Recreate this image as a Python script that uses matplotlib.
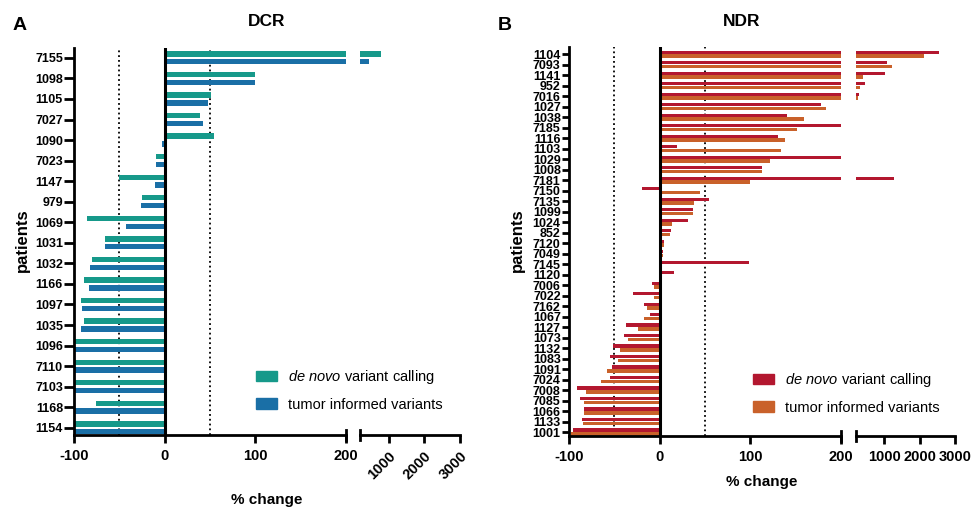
import matplotlib
matplotlib.use('Agg')
import matplotlib.pyplot as plt
import numpy as np

matplotlib.rcParams['font.family'] = 'Liberation Sans'
matplotlib.rcParams['mathtext.fontset'] = 'custom'
matplotlib.rcParams['mathtext.rm'] = 'Liberation Sans'
matplotlib.rcParams['mathtext.it'] = 'Liberation Sans:italic'

# DCR panel
dcr_patients = ['7155', '1098', '1105', '7027', '1090', '7023', '1147', '979', '1069', '1031',
                '1032', '1166', '1097', '1035', '1096', '7110', '7103', '1168', '1154']
dcr_denovo = [800, 100, 51, 39, 54, -10, -50, -25, -86, -66,
              -80, -89, -92, -89, -100, -100, -100, -76, -100]
dcr_informed = [465, 100, 48, 42, -3, -10, -11, -26, -43, -66,
                -82, -84, -91, -92, -100, -100, -100, -100, -100]

# NDR panel
ndr_patients = ['1104', '7093', '1141', '952', '7016', '1027', '1038', '7185', '1116', '1103',
                '1029', '1008', '7181', '7150', '7135', '1099', '1024', '852', '7120', '7049',
                '7145', '1120', '7006', '7022', '7162', '1067', '1127', '1073', '1132', '1083',
                '1091', '7024', '7008', '7085', '1066', '1133', '1001']
ndr_denovo = [2560, 1070, 1030, 455, 285, 178, 140, 200, 130, 19,
              200, 113, 1270, -20, 54, 37, 31, 12, 5, 4,
              99, 16, -8, -29, -17, -11, -37, -39, -52, -55,
              -53, -55, -91, -88, -83, -86, -96]
ndr_informed = [2130, 1220, 410, 305, 250, 183, 159, 151, 138, 134,
                122, 113, 100, 44, 38, 37, 14, 11, 5, 4,
                0, 0, -6, -6, -14, -17, -24, -35, -44, -46,
                -58, -65, -81, -83, -84, -85, -98]

W, H = 972, 512
fig = plt.figure(figsize=(W / 100, H / 100), dpi=100)


def px_ax(x0, x1, y0, y1):
    return fig.add_axes([x0 / W, 1 - y1 / H, (x1 - x0) / W, (y1 - y0) / H])


def draw_panel(axl, axr, patients, v1, v2, c1, c2, ylim, bar_h, off, ytick_len, rotate):
    y = np.arange(len(patients))
    for ax in (axl, axr):
        ax.barh(y - off, v1, height=bar_h, color=c1, linewidth=0, zorder=2)
        ax.barh(y + off, v2, height=bar_h, color=c2, linewidth=0, zorder=2)
        ax.set_ylim(*ylim)
        for s in ['top', 'right']:
            ax.spines[s].set_visible(False)
        ax.spines['bottom'].set_linewidth(2.0)
        ax.tick_params(axis='x', direction='out', length=6, width=2.0, labelsize=10.5, pad=4)
    axl.set_xlim(-100, 200)
    axl.set_xticks([-100, 0, 100, 200])
    axl.set_xticklabels(['-100', '0', '100', '200'], fontweight='bold')
    axl.spines['left'].set_linewidth(2.0)
    axl.set_yticks(y)
    axl.set_yticklabels(patients, fontweight='bold', fontsize=9)
    axl.tick_params(axis='y', direction='out', length=ytick_len, width=2.0, pad=1)
    axl.axvline(0, color='black', linewidth=2.2, zorder=3)
    axl.axvline(-50, color='black', linestyle=':', linewidth=1.3, zorder=1)
    axl.axvline(50, color='black', linestyle=':', linewidth=1.3, zorder=1)

    axr.set_xlim(200, 3000)
    axr.spines['left'].set_visible(False)
    axr.set_yticks([])
    axr.set_xticks([1000, 2000, 3000])
    if rotate:
        axr.set_xticklabels(['1000', '2000', '3000'], fontweight='bold', rotation=45,
                            ha='right', va='top', rotation_mode='anchor')
    else:
        axr.set_xticklabels(['1000', '2000', '3000'], fontweight='bold')

    # break caps
    hl = 5 / (axl.get_position().height * H)
    axl.plot([1, 1], [-hl, hl], transform=axl.transAxes, color='black', lw=2.0, clip_on=False)
    axr.plot([0, 0], [-hl, hl], transform=axr.transAxes, color='black', lw=2.0, clip_on=False)


# panel A
axA = px_ax(74, 346, 48, 435)
axA2 = px_ax(360, 460, 48, 435)
draw_panel(axA, axA2, dcr_patients, dcr_denovo, dcr_informed, '#16998a', '#1a6fa6',
           (18.35, -0.48), 0.26, 0.19, 7, True)

# panel B
axB = px_ax(569, 841, 47, 436)
axB2 = px_ax(856, 955, 47, 436)
draw_panel(axB, axB2, ndr_patients, ndr_denovo, ndr_informed, '#b3172f', '#c9612a',
           (36.38, -0.67), 0.33, 0.17, 5, False)

# titles and labels
fig.text(20 / W, 1 - 25 / H, 'A', fontsize=14, fontweight='bold', ha='center', va='center')
fig.text(505 / W, 1 - 25 / H, 'B', fontsize=14, fontweight='bold', ha='center', va='center')
fig.text(267 / W, 1 - 21 / H, 'DCR', fontsize=12.5, fontweight='bold', ha='center', va='center')
fig.text(742 / W, 1 - 21 / H, 'NDR', fontsize=12.5, fontweight='bold', ha='center', va='center')
fig.text(22 / W, 1 - 240 / H, 'patients', fontsize=12, fontweight='bold', rotation=90,
         ha='center', va='center')
fig.text(517 / W, 1 - 240 / H, 'patients', fontsize=12, fontweight='bold', rotation=90,
         ha='center', va='center')
fig.text(267 / W, 1 - 500 / H, '% change', fontsize=11, fontweight='bold', ha='center', va='center')
fig.text(762 / W, 1 - 482 / H, '% change', fontsize=11, fontweight='bold', ha='center', va='center')

# legends
labels = [r'$\it{de\ novo}$ variant calling', 'tumor informed variants']
for colors, xy in [(('#16998a', '#1a6fa6'), (256, 390)),
                   (('#b3172f', '#c9612a'), (753, 393))]:
    handles = [plt.Rectangle((0, 0), 1, 1, color=c) for c in colors]
    fig.legend(handles, labels, loc='center left', bbox_to_anchor=(xy[0] / W, 1 - xy[1] / H),
               frameon=False, fontsize=10.5, borderpad=0, borderaxespad=0,
               handlelength=1.45, handleheight=0.75, handletextpad=0.75, labelspacing=0.8)

fig.savefig('out.png', dpi=100)
